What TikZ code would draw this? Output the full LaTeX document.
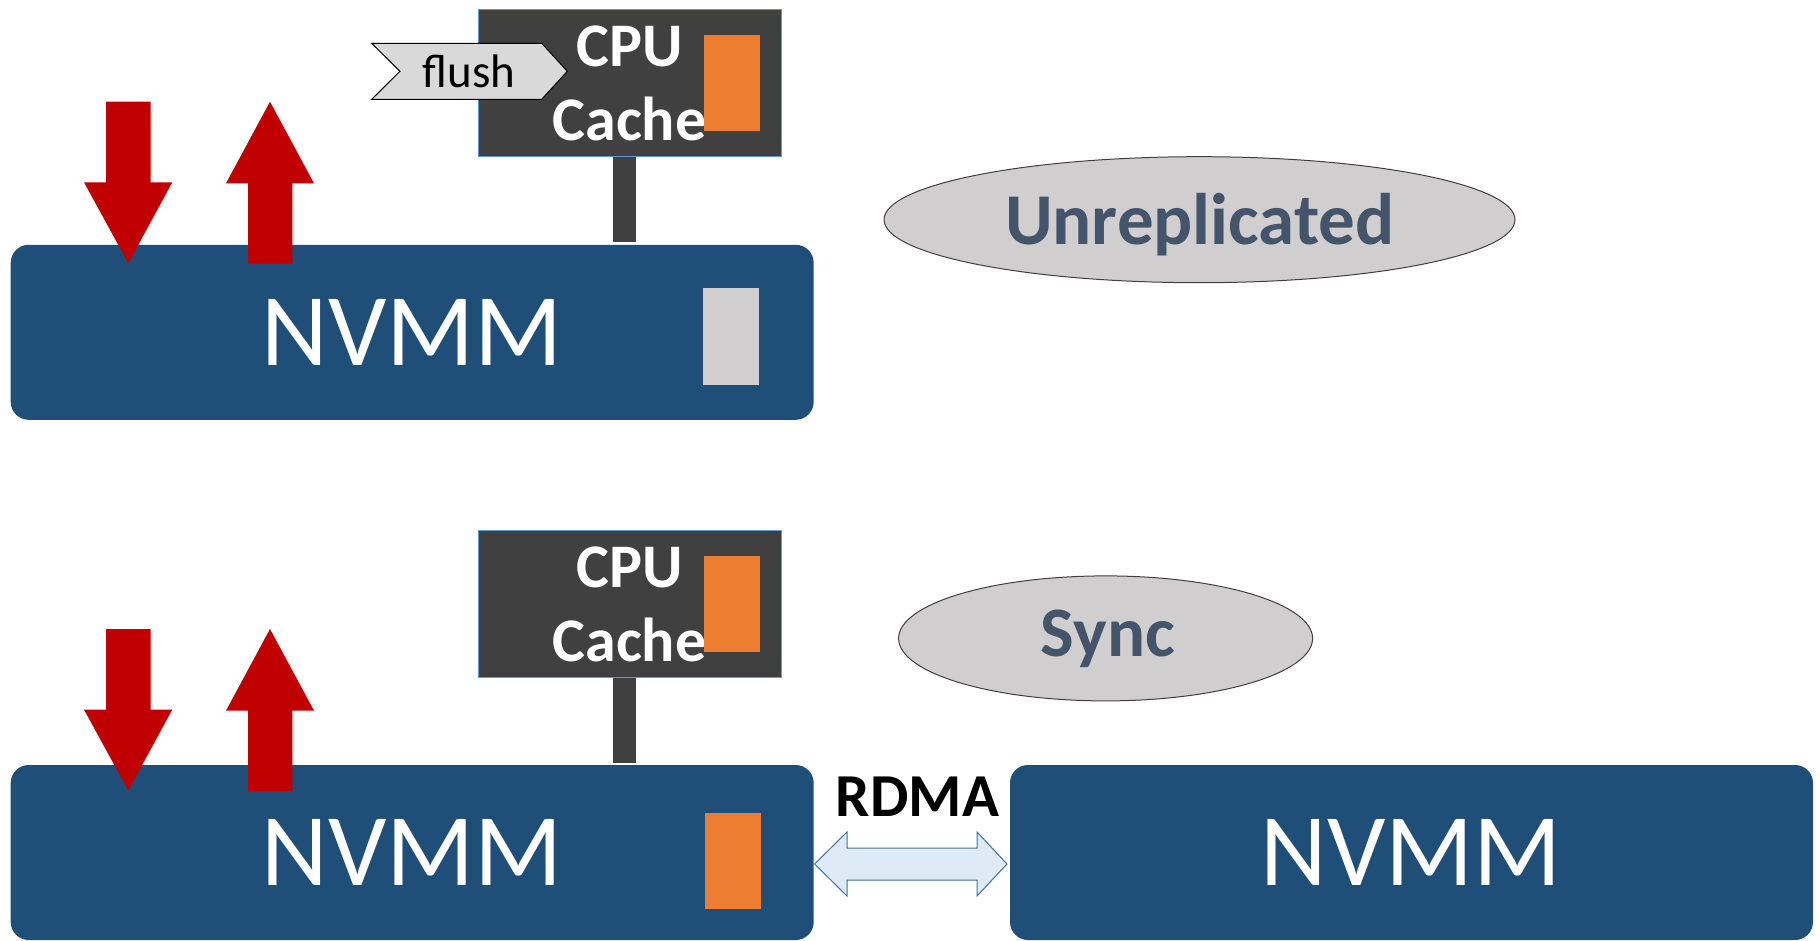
\documentclass[tikz,border=0pt]{standalone}
\usepackage{fontspec}
\setmainfont{Carlito}
\usetikzlibrary{shapes.geometric}
\definecolor{nvblue}{HTML}{1F4E79}
\definecolor{cpugray}{HTML}{404040}
\definecolor{cpuedge}{HTML}{5B9BD5}
\definecolor{cacheorange}{HTML}{ED7D31}
\definecolor{blockgray}{HTML}{D0CECE}
\definecolor{flushgray}{HTML}{D9D9D9}
\definecolor{arrowred}{HTML}{C00000}
\definecolor{labelblue}{HTML}{44546A}
\definecolor{rdmafill}{HTML}{DEEBF7}
\definecolor{rdmaedge}{HTML}{41719C}
\begin{document}
\begin{tikzpicture}[x=1pt,y=-1pt,
  nvmm/.style={fill=nvblue, rounded corners=18pt, inner sep=0pt, minimum width=803pt, minimum height=175pt, text=white, font=\fontsize{103}{103}\selectfont},
  cpubox/.style={fill=cpugray, draw=cpuedge, line width=1.2pt, inner sep=0pt, minimum width=303pt, minimum height=147pt},
  cpulbl/.style={anchor=base, inner sep=0pt, text=white, font=\fontsize{62}{62}\selectfont\bfseries},
  cacheblk/.style={fill=cacheorange, inner sep=0pt, minimum width=56pt, minimum height=96pt},
  grayblk/.style={fill=blockgray, inner sep=0pt, minimum width=56pt, minimum height=97pt},
  stem/.style={draw=cpugray, line width=23.3pt},
  redarrow/.style={fill=arrowred, draw=none},
  oval/.style={ellipse, fill=blockgray, draw=cpugray, line width=1pt, inner sep=0pt},
  ovallbl/.style={anchor=base, inner sep=0pt, text=labelblue, font=\fontsize{73}{73}\selectfont\bfseries},
  flushshape/.style={fill=flushgray, draw=black, line width=1pt},
  rdmashape/.style={fill=rdmafill, draw=rdmaedge, line width=1pt}
]
\useasboundingbox (0,0) rectangle (1820,941);

% ---------- top: unreplicated ----------
\node[nvmm] (nv1) at (412.2,332.3) {NVMM};
\node[grayblk] (g1) at (730.9,336.3) {};

\node[cpubox] (cpu1) at (630,83) {};
\node[cpulbl] (cpu1a) at (629.5,66.7) {CPU};
\node[cpulbl] (cpu1b) at (629.5,140.7) {Cache};
\node[cacheblk] (o1) at (732,82.9) {};
\coordinate (s1t) at (624.3,157.3);
\coordinate (s1b) at (624.3,242.3);
\draw[stem] (s1t) -- (s1b);

\draw[flushshape] (371.7,43.3) -- (541.7,43.3) -- (567.3,71.3) -- (541.7,99.3) -- (371.7,99.3) -- (400,71.3) -- cycle;
\node[anchor=base, inner sep=0pt, font=\fontsize{47}{47}\selectfont] (flush) at (469,87.3) {flush};

\fill[redarrow] (106,101.7) -- (150.7,101.7) -- (150.7,182.3) -- (172.3,182.3) -- (128.3,263.3) -- (84,182.3) -- (106,182.3) -- cycle;
\fill[redarrow] (270,101.7) -- (314,183.3) -- (292.3,183.3) -- (292.3,263.7) -- (248,263.7) -- (248,183.3) -- (226,183.3) -- cycle;

\node[oval, minimum width=631pt, minimum height=126pt] (unrep) at (1199.5,219.7) {};
\node[ovallbl] (unreplbl) at (1199.8,245) {Unreplicated};

% ---------- bottom: sync ----------
\node[nvmm] (nv2) at (412.2,852.5) {NVMM};
\node[cacheblk] (o3) at (732.5,860.7) {};
\node[nvmm] (nv3) at (1411.5,852.5) {NVMM};

\node[cpubox] (cpu2) at (630,604) {};
\node[cpulbl] (cpu2a) at (629.5,587.7) {CPU};
\node[cpulbl] (cpu2b) at (629.5,661.7) {Cache};
\node[cacheblk] (o2) at (732,603.9) {};
\coordinate (s2t) at (624.3,678.3);
\coordinate (s2b) at (624.3,763);
\draw[stem] (s2t) -- (s2b);

\begin{scope}[shift={(0,527.3)}]
\fill[redarrow] (106,101.7) -- (150.7,101.7) -- (150.7,182.3) -- (172.3,182.3) -- (128.3,263.3) -- (84,182.3) -- (106,182.3) -- cycle;
\fill[redarrow] (270,101.7) -- (314,183.3) -- (292.3,183.3) -- (292.3,263.7) -- (248,263.7) -- (248,183.3) -- (226,183.3) -- cycle;
\end{scope}

\node[oval, minimum width=414pt, minimum height=125pt] (sync) at (1105.6,638.4) {};
\node[ovallbl, font=\fontsize{71}{71}\selectfont\bfseries] (synclbl) at (1107.8,656) {Sync};

\draw[rdmashape] (814.5,864) -- (847,832) -- (847,848) -- (977,848) -- (977,832) -- (1007,864) -- (977,896) -- (977,880) -- (847,880) -- (847,896) -- cycle;
\node[anchor=base, inner sep=0pt, font=\fontsize{61}{61}\selectfont\bfseries] (rdma) at (917.5,816.7) {RDMA};
\end{tikzpicture}
\end{document}
